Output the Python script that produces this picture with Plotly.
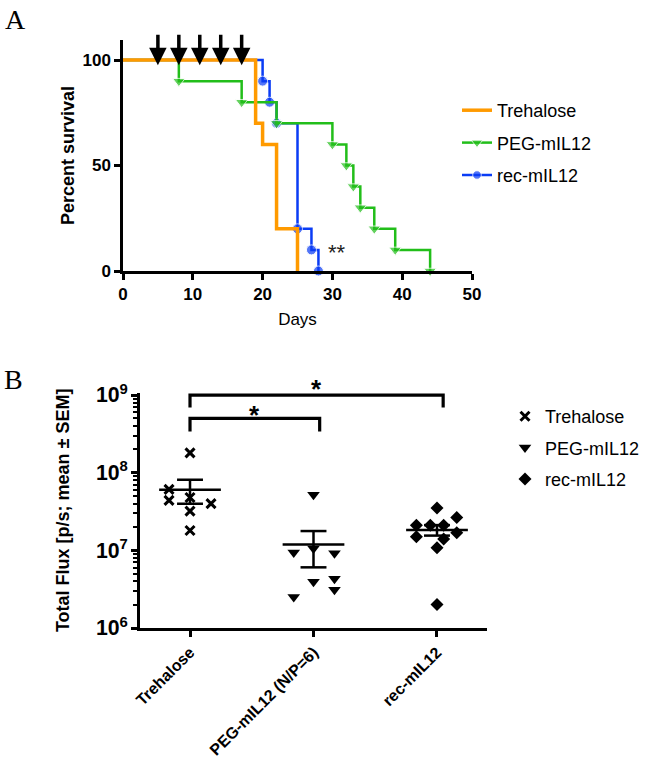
import numpy as np
import plotly.graph_objects as go

# ---------------- Panel A: survival data ----------------
trehalose_days = [0, 19, 20, 22, 25]
trehalose_surv = [100, 70, 60, 20, 0]
peg_days = [0, 8, 17, 22, 30, 32, 33, 34, 36, 39, 44]
peg_surv = [100, 90, 80, 70, 60, 50, 40, 30, 20, 10, 0]
rec_days = [0, 20, 21, 22, 25, 27, 28]
rec_surv = [100, 90, 80, 70, 20, 10, 0]
dose_days = [5, 8, 11, 14, 17]

# ---------------- Panel B: total flux data ----------------
groups = ["Trehalose", "PEG-mIL12 (N/P=6)", "rec-mIL12"]
legend_names_b = ["Trehalose", "PEG-mIL12", "rec-mIL12"]
flux_trehalose = [1.8e8, 6.1e7, 4.4e7, 4.8e7, 4.0e7, 3.2e7, 1.8e7]
flux_peg = [5.2e7, 9.4e6, 1.06e7, 9.2e6, 3.95e6, 4.3e6, 3.1e6, 2.5e6]
flux_rec = [3.5e7, 2.64e7, 2.1e7, 2.1e7, 2.1e7, 1.5e7, 1.4e7, 1.69e7, 1.08e7, 2.0e6]
# horizontal scatter offsets of the points within each column
jitter_trehalose = [0, -0.17, -0.17, 0, 0.17, 0, 0]
jitter_peg = [0, -0.16, 0, 0.17, 0, 0.17, 0.17, -0.16]
jitter_rec = [0, 0.16, -0.167, -0.054, 0.054, -0.167, 0.054, 0.16, 0, 0]
comparisons = [(0, 1, "*"), (0, 2, "*")]

FONT = "Liberation Sans, Arial, Helvetica, sans-serif"
SERIF = "Liberation Serif, Times New Roman, serif"
W, H = 646, 761

fig = go.Figure()

# ---- Panel A traces (drawn bottom -> top: rec, PEG, Trehalose) ----
def surv_trace(name, days, surv, color, width, symbol, size, rank):
    kw = dict(x=days, y=surv, name=name, legendgroup=name, legendrank=rank,
              line=dict(color=color, width=width, shape="hv"),
              xaxis="x", yaxis="y", legend="legend", cliponaxis=False)
    if symbol:
        kw["mode"] = "lines+markers"
        kw["marker"] = dict(symbol=symbol, color=color,
                            size=[0] + [size] * (len(days) - 1))
    else:
        kw["mode"] = "lines"
    fig.add_trace(go.Scatter(**kw))

surv_trace("rec-mIL12", rec_days, rec_surv, "#0A3CF5", 2.5, "circle", 10, 3)
surv_trace("PEG-mIL12", peg_days, peg_surv, "#22BE1A", 2.5, "triangle-down", 11, 2)
surv_trace("Trehalose", trehalose_days, trehalose_surv, "#FF9A00", 3.5, None, 0, 1)

# ---- Panel B traces ----
symbols_b = [("x-thin-open", 9, 3), ("triangle-down", 11, 0), ("diamond", 10, 0)]
for i, (vals, jit) in enumerate([(flux_trehalose, jitter_trehalose),
                                  (flux_peg, jitter_peg),
                                  (flux_rec, jitter_rec)]):
    sym, size, lw = symbols_b[i]
    fig.add_trace(go.Scatter(
        x=[i + j for j in jit], y=vals, mode="markers", name=legend_names_b[i],
        legendgroup="b" + str(i), legend="legend2",
        marker=dict(symbol=sym, size=size, color="black",
                    line=dict(color="black", width=lw)),
        xaxis="x2", yaxis="y2", cliponaxis=False))
    arr = np.array(vals)
    m = arr.mean()
    sem = arr.std(ddof=1) / np.sqrt(len(arr))
    xs = [i - 0.25, i + 0.25, None, i, i, None,
          i - 0.105, i + 0.105, None, i - 0.105, i + 0.105]
    ys = [m, m, None, m - sem, m + sem, None,
          m + sem, m + sem, None, m - sem, m - sem]
    fig.add_trace(go.Scatter(x=xs, y=ys, mode="lines", showlegend=False,
                             line=dict(color="black", width=2.5),
                             xaxis="x2", yaxis="y2", hoverinfo="skip"))

# significance brackets (top level, leg bottom) in data units
bracket_levels = [(10 ** 8.70, 10 ** 8.53), (10 ** 9.0, 10 ** 8.84)]
star_anchor = [(8.798, -4), (9.0, 6)]
annotations = []
for k, (a, b, txt) in enumerate(comparisons):
    top, leg = bracket_levels[k]
    fig.add_trace(go.Scatter(x=[a, a, b + 0.05, b + 0.05], y=[leg, top, top, leg],
                             mode="lines", showlegend=False,
                             line=dict(color="black", width=3.2),
                             xaxis="x2", yaxis="y2", hoverinfo="skip"))
    yv, ys_ = star_anchor[k]
    annotations.append(dict(x=(a + b + 0.05) / 2, y=yv, xref="x2", yref="y2",
                            text=txt, showarrow=False, xanchor="center", yanchor="middle",
                            yshift=ys_, font=dict(family=FONT, size=26, color="black", weight="bold")))

# dosing arrows
for d in dose_days:
    annotations.append(dict(x=d, y=97.5, xref="x", yref="y", text="", showarrow=True,
                            ax=0, ay=-32, arrowhead=2, arrowsize=1, arrowwidth=3.5,
                            arrowcolor="black"))

annotations.append(dict(x=30.6, y=9.5, xref="x", yref="y", text="**", showarrow=False,
                        xanchor="center", yanchor="middle", yshift=-2,
                        font=dict(family=FONT, size=22, color="#222222")))
annotations.append(dict(x=3 / W, y=1 - 2 / H, xref="paper", yref="paper", text="A",
                        showarrow=False, xanchor="left", yanchor="top",
                        font=dict(family=SERIF, size=28, color="black")))
annotations.append(dict(x=2 / W, y=1 - 362 / H, xref="paper", yref="paper", text="B",
                        showarrow=False, xanchor="left", yanchor="top",
                        font=dict(family=SERIF, size=28, color="black")))

axis_common = dict(showline=True, linewidth=2.5, linecolor="black", ticks="outside",
                   ticklen=6, tickwidth=2.5, tickcolor="black", showgrid=False,
                   zeroline=False)
tickfont = dict(family=FONT, size=17, color="black", weight="bold")
catfont = dict(family=FONT, size=16, color="black", weight="bold")

fig.update_layout(
    width=W, height=H, margin=dict(l=0, r=0, t=0, b=0, autoexpand=False),
    paper_bgcolor="white", plot_bgcolor="white",
    font=dict(family=FONT, color="black"),
    xaxis=dict(domain=[123 / W, 472 / W], range=[0, 50], tickvals=[0, 10, 20, 30, 40, 50],
               anchor="y", tickfont=tickfont,
               title=dict(text="Days", font=dict(family=FONT, size=17), standoff=10),
               **axis_common),
    yaxis=dict(domain=[1 - 271 / H, 1 - 40 / H], range=[0, 109.5], tickvals=[0, 50, 100],
               anchor="x", tickfont=tickfont,
               title=dict(text="Percent survival",
                          font=dict(family=FONT, size=18, weight="bold"), standoff=4),
               **axis_common),
    xaxis2=dict(domain=[140 / W, 487 / W], range=[-0.405, 2.405], tickvals=[0, 1, 2],
                ticktext=groups, tickangle=-45, anchor="y2", tickfont=catfont,
                **axis_common),
    yaxis2=dict(domain=[1 - 628 / H, 1 - 392.7 / H], type="log", range=[6, 9.03],
                tickmode="linear", tick0=0, dtick=1, exponentformat="power",
                showexponent="all", anchor="x2", tickfont=tickfont,
                minor=dict(ticks="outside", dtick="D1", ticklen=4, tickwidth=1.5,
                           tickcolor="black", showgrid=False),
                title=dict(text="Total Flux [p/s; mean ± SEM]",
                           font=dict(family=FONT, size=18, weight="bold"), standoff=22),
                **axis_common),
    legend=dict(x=457 / W, y=1 - 92 / H, xanchor="left", yanchor="top",
                font=dict(family=FONT, size=18), bgcolor="rgba(0,0,0,0)",
                traceorder="grouped", tracegroupgap=6),
    legend2=dict(x=505 / W, y=1 - 398 / H, xanchor="left", yanchor="top",
                 font=dict(family=FONT, size=18), bgcolor="rgba(0,0,0,0)",
                 traceorder="grouped", tracegroupgap=5),
    annotations=annotations,
    showlegend=True,
)

fig.write_html("out.html", config={"displayModeBar": False},
               post_script="document.body.style.margin='0px';")
